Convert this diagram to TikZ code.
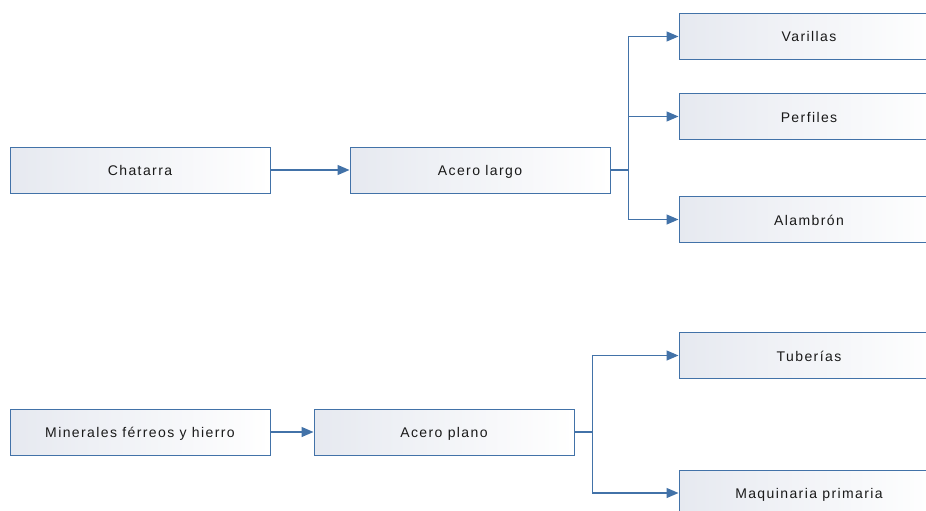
\documentclass[tikz,border=0pt]{standalone}
\usepackage{fontspec}
\setmainfont[LetterSpace=10]{Liberation Sans}
\usetikzlibrary{arrows.meta}
\definecolor{flowline}{RGB}{66,114,168}
\definecolor{boxshade}{RGB}{230,233,240}

\tikzset{
  procbox/.style={draw=flowline, line width=1pt, left color=boxshade, right color=white,
    minimum width=260pt, minimum height=46pt, inner sep=0pt,
    text height=12pt, text depth=1pt,
    text=black!90, font=\fontsize{14}{16}\selectfont},
  flow/.style={draw=flowline, line width=1.3pt, -{Triangle[length=12pt,width=10pt]}}
}

\begin{document}
\begin{tikzpicture}[x=1pt, y=-1pt]
  \useasboundingbox (0,0) rectangle (926,511);
  \clip (0,0) rectangle (926,511);
  % upper chain
  \node[procbox] (chatarra) at (140,170) {Chatarra};
  \node[procbox] (largo) at (480,170) {Acero largo};
  \node[procbox] (varillas) at (809,36.5) {Varillas};
  \node[procbox] (perfiles) at (809,116.5) {Perfiles};
  \node[procbox] (alambron) at (809,219.5) {Alambrón};
  % lower chain
  \node[procbox] (minerales) at (140,432) {Minerales férreos y hierro};
  \node[procbox] (plano) at (444,432) {Acero plano};
  \node[procbox] (tuberias) at (809,355.5) {Tuberías};
  \node[procbox] (maquinaria) at (809,493) {Maquinaria primaria};

  \draw[flow] (chatarra) -- (largo);
  \draw[flow] (largo.east) -- ++(18,0) |- (varillas.west);
  \draw[flow] (largo.east) -- ++(18,0) |- (perfiles.west);
  \draw[flow] (largo.east) -- ++(18,0) |- (alambron.west);

  \draw[flow] (minerales) -- (plano);
  \draw[flow] (plano.east) -- ++(18,0) |- (tuberias.west);
  \draw[flow] (plano.east) -- ++(18,0) |- (maquinaria.west);
\end{tikzpicture}
\end{document}
